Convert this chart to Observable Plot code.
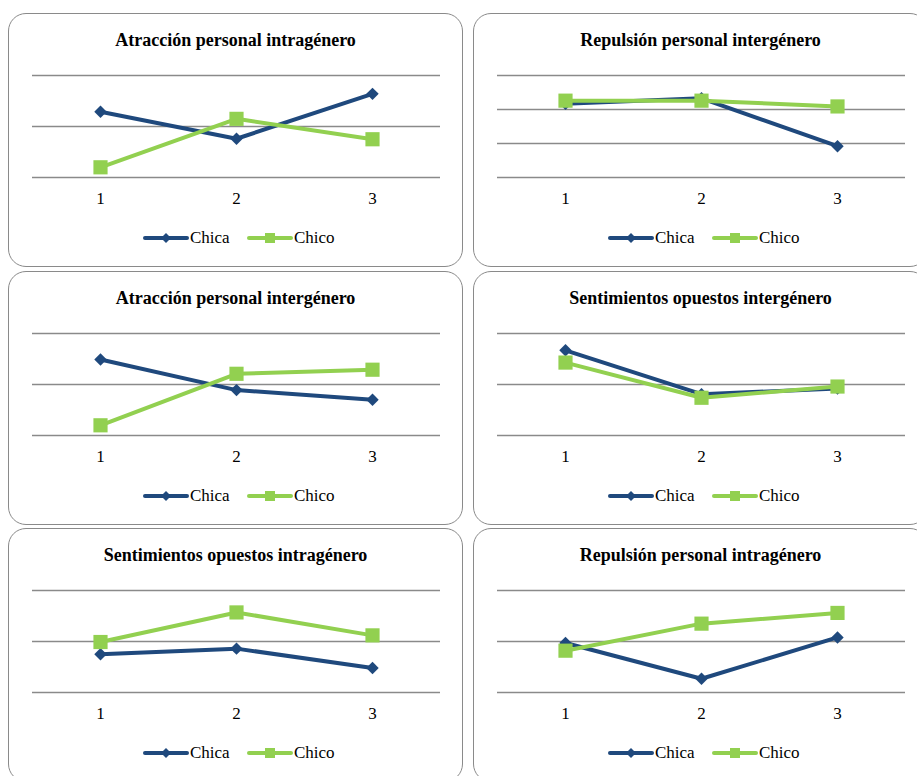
<!DOCTYPE html>
<html>
<head>
<meta charset="utf-8">
<script src="https://cdn.jsdelivr.net/npm/d3@7"></script>
<script src="https://cdn.jsdelivr.net/npm/@observablehq/plot@0.6"></script>
<style>
  html, body { margin: 0; padding: 0; background: #fff; }
  #root { position: relative; width: 917px; height: 776px; overflow: hidden; font-family: "Liberation Serif", "DejaVu Serif", serif; }
  .box { position: absolute; width: 455px; height: 254px; box-sizing: border-box; border: 1.3px solid #8a8a8a; border-radius: 18px; background: #fff; }
  .title { position: absolute; left: 0; right: 0; top: 16px; text-align: center; font-weight: bold; font-size: 18px; line-height: 20px; color: #000; }
  .plot { position: absolute; left: 0; top: 44px; }
  #root svg text { font-size: 17px !important; fill: #000; font-family: "Liberation Serif", serif; }
  .sw { position: absolute; top: 217px; display: block; }
  .lt { position: absolute; top: 214px; font-size: 17px; line-height: 20px; color: #000; }
</style>
</head>
<body>
<div id="root"></div>
<script>
// ---- data (values in grid units) ----
const xValues = [1, 2, 3];
const titles = [
  "Atracción personal intragénero",
  "Repulsión personal intergénero",
  "Atracción personal intergénero",
  "Sentimientos opuestos intergénero",
  "Sentimientos opuestos intragénero",
  "Repulsión personal intragénero"
];
const chica = [
  [1.29, 0.76, 1.64],
  [2.17, 2.33, 0.92],
  [1.49, 0.89, 0.70],
  [1.67, 0.81, 0.92],
  [0.75, 0.86, 0.48],
  [0.97, 0.27, 1.08]
];
const chico = [
  [0.20, 1.15, 0.75],
  [2.26, 2.26, 2.09],
  [0.20, 1.21, 1.29],
  [1.43, 0.74, 0.96],
  [0.99, 1.57, 1.12],
  [0.82, 1.35, 1.56]
];
const gridValues = [
  [0, 1, 2],
  [0, 1, 2, 3],
  [0, 1, 2],
  [0, 1, 2],
  [0, 1, 2],
  [0, 1, 2]
];
const seriesNames = ["Chica", "Chico"];
const seriesColors = ["#1f497d", "#92d050"];

// ---- layout ----
const boxLeft = [8, 473];
const boxTop = [13, 271, 528];
const swatchLeft = [134, 238];
const textLeft = [181, 285];

const root = document.getElementById("root");

titles.forEach((t, i) => {
  const col = i % 2, row = Math.floor(i / 2);
  const box = document.createElement("div");
  box.className = "box";
  box.style.left = boxLeft[col] + "px";
  box.style.top = boxTop[row] + "px";
  root.appendChild(box);

  const title = document.createElement("div");
  title.className = "title";
  title.textContent = t;
  box.appendChild(title);

  const chicaRows = xValues.map((x, k) => ({x, y: chica[i][k], s: seriesNames[0]}));
  const chicoRows = xValues.map((x, k) => ({x, y: chico[i][k], s: seriesNames[1]}));
  const g = gridValues[i];

  const plot = Plot.plot({
    width: 453,
    height: 160,
    marginLeft: 23,
    marginRight: 22,
    marginTop: 17,
    marginBottom: 41,
    style: { fontFamily: '"Liberation Serif", serif', fontSize: "17px", color: "#000", background: "transparent", overflow: "visible" },
    x: { type: "point", domain: xValues, padding: 0.5 },
    y: { domain: [g[0], g[g.length - 1]], axis: null },
    marks: [
      Plot.ruleY(g, { stroke: "#8a8a8a", strokeWidth: 1.3 }),
      Plot.axisX({ tickSize: 0, tickPadding: 14, label: null, fontSize: 17 }),
      Plot.line(chicaRows, { x: "x", y: "y", stroke: seriesColors[0], strokeWidth: 4 }),
      Plot.dot(chicaRows, { x: "x", y: "y", symbol: "diamond2", r: 5.6, fill: seriesColors[0], stroke: "none" }),
      Plot.line(chicoRows, { x: "x", y: "y", stroke: seriesColors[1], strokeWidth: 4 }),
      Plot.dot(chicoRows, { x: "x", y: "y", symbol: "square", r: 8, fill: seriesColors[1], stroke: "none" })
    ]
  });
  plot.classList.add("plot");
  box.appendChild(plot);

  seriesNames.forEach((name, k) => {
    const ns = "http://www.w3.org/2000/svg";
    const sw = document.createElementNS(ns, "svg");
    sw.setAttribute("class", "sw");
    sw.setAttribute("width", 46);
    sw.setAttribute("height", 14);
    sw.style.left = swatchLeft[k] + "px";
    const ln = document.createElementNS(ns, "line");
    ln.setAttribute("x1", 2); ln.setAttribute("x2", 44);
    ln.setAttribute("y1", 7); ln.setAttribute("y2", 7);
    ln.setAttribute("stroke", seriesColors[k]);
    ln.setAttribute("stroke-width", 4);
    ln.setAttribute("stroke-linecap", "round");
    sw.appendChild(ln);
    const mk = document.createElementNS(ns, "path");
    if (k === 0) mk.setAttribute("d", "M23,2 L28,7 L23,12 L18,7 Z");
    else mk.setAttribute("d", "M18,2 H28 V12 H18 Z");
    mk.setAttribute("fill", seriesColors[k]);
    sw.appendChild(mk);
    box.appendChild(sw);
    const tx = document.createElement("div");
    tx.className = "lt";
    tx.style.left = textLeft[k] + "px";
    tx.textContent = name;
    box.appendChild(tx);
  });
});
</script>
</body>
</html>
